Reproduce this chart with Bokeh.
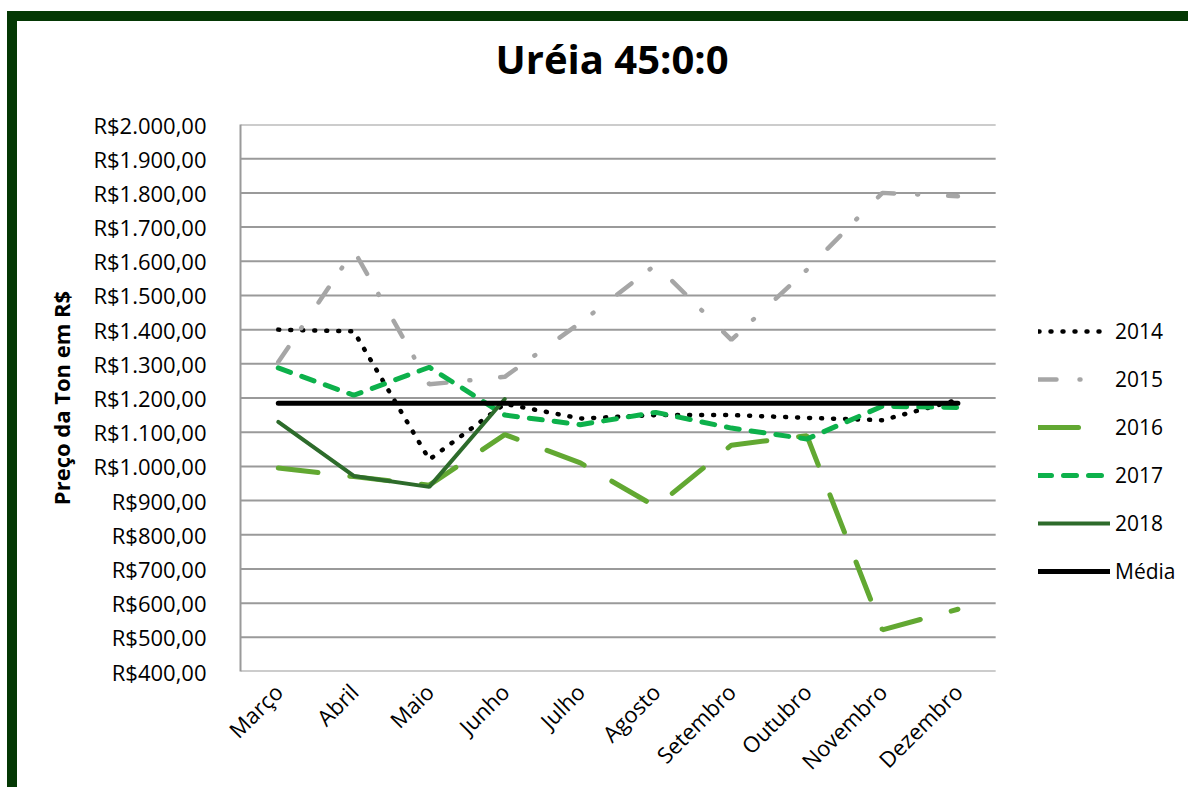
from math import pi
from bokeh.plotting import figure
from bokeh.models import FixedTicker, Legend, LegendItem, Range1d, Title
from bokeh.embed import file_html
from bokeh.resources import INLINE

months = ["Março", "Abril", "Maio", "Junho", "Julho", "Agosto",
          "Setembro", "Outubro", "Novembro", "Dezembro"]
y2014 = [1400, 1395, 1020, 1183, 1140, 1150, 1150, 1142, 1135, 1195]
y2015 = [1305, 1632, 1240, 1262, 1420, 1590, 1370, 1575, 1800, 1790]
y2016 = [995, 970, 945, 1093, 1010, 882, 1062, 1090, 522, 582]
y2017 = [1288, 1208, 1290, 1150, 1122, 1158, 1112, 1080, 1176, 1172]
months_2018 = ["Março", "Abril", "Maio", "Junho"]
y2018 = [1130, 972, 940, 1197]
media = [1185, 1185, 1185, 1185, 1185, 1185, 1185, 1185, 1185, 1185]

y_ticks = [400, 500, 600, 700, 800, 900, 1000, 1100, 1200, 1300, 1400,
           1500, 1600, 1700, 1800, 1900, 2000]
y_labels = ["R$400,00", "R$500,00", "R$600,00", "R$700,00", "R$800,00",
            "R$900,00", "R$1.000,00", "R$1.100,00", "R$1.200,00",
            "R$1.300,00", "R$1.400,00", "R$1.500,00", "R$1.600,00",
            "R$1.700,00", "R$1.800,00", "R$1.900,00", "R$2.000,00"]
title_text = "Uréia 45:0:0"

FONT = "Open Sans"
GRID = "#9a9a9a"

# month positions on the x scale (1 = Março ... 10 = Dezembro)
pos = {m: i + 1 for i, m in enumerate(months)}
x_all = [pos[m] for m in months]
x_2018 = [pos[m] for m in months_2018]
n = len(months)

p = figure(x_range=Range1d(0.5, 13.08), y_range=Range1d(400, 2000),
           width=1181, height=776, output_backend="svg", toolbar_location=None,
           min_border_left=223, min_border_right=8, min_border_top=103,
           min_border_bottom=126)
p.styles = {"border-top": "10px solid #043804", "border-left": "10px solid #043804",
            "margin-top": "11px", "margin-left": "7px"}

# empty spacer title between the frame and the real title
spacer = Title(text=" ", text_font_size="10px", standoff=26)
p.add_layout(spacer, "above")
main_title = Title(text=title_text, text_font=FONT, text_font_size="40px",
                   text_font_style="bold", align="left", offset=255,
                   standoff=0, text_color="#000000")
p.add_layout(main_title, "above")

p.outline_line_color = None
p.xgrid.visible = False
p.ygrid.visible = False

# horizontal gridlines spanning the category area only
p.segment(x0=[0.5] * len(y_ticks), x1=[n + 0.5] * len(y_ticks),
          y0=y_ticks, y1=y_ticks, line_color=GRID, line_width=2)

p.yaxis.ticker = FixedTicker(ticks=y_ticks)
p.yaxis.major_label_overrides = {t: l for t, l in zip(y_ticks, y_labels)}
p.yaxis.major_label_text_font = FONT
p.yaxis.major_label_text_font_size = "22px"
p.yaxis.major_label_text_color = "#000000"
p.yaxis.major_tick_line_color = None
p.yaxis.minor_tick_line_color = None
p.yaxis.axis_line_color = GRID
p.yaxis.axis_line_width = 2
p.yaxis.major_label_standoff = 28
p.yaxis.axis_label = "Preço da Ton em R$"
p.yaxis.axis_label_text_font = FONT
p.yaxis.axis_label_text_font_size = "22px"
p.yaxis.axis_label_text_font_style = "bold"
p.yaxis.axis_label_text_color = "#000000"
p.yaxis.axis_label_standoff = 14

p.xaxis.ticker = FixedTicker(ticks=x_all)
p.xaxis.major_label_overrides = {pos[m]: m for m in months}
p.xaxis.major_label_orientation = pi / 4
p.xaxis.major_label_text_font = FONT
p.xaxis.major_label_text_font_size = "22px"
p.xaxis.major_label_text_color = "#000000"
p.xaxis.major_tick_line_color = None
p.xaxis.minor_tick_line_color = None
p.xaxis.axis_line_color = None
p.xaxis.major_label_standoff = 10

r14 = p.line(x_all, y2014, line_color="#000000", line_width=4.5,
             line_dash="1 11", line_cap="round")
r15 = p.line(x_all, y2015, line_color="#a6a6a6", line_width=4.5,
             line_dash="18 23 1 30", line_cap="round")
r16 = p.line(x_all, y2016, line_color="#62a832", line_width=5,
             line_dash="40 32", line_cap="round")
r17 = p.line(x_all, y2017, line_color="#0db14b", line_width=5,
             line_dash="13 12", line_cap="round")
r18 = p.line(x_2018, y2018, line_color="#2d6b2b", line_width=4,
             line_cap="round")
rm = p.line(x_all, media, line_color="#000000", line_width=5,
            line_cap="round")

legend = Legend(items=[LegendItem(label="2014", renderers=[r14]),
                       LegendItem(label="2015", renderers=[r15]),
                       LegendItem(label="2016", renderers=[r16]),
                       LegendItem(label="2017", renderers=[r17]),
                       LegendItem(label="2018", renderers=[r18]),
                       LegendItem(label="Média", renderers=[rm])],
                location=(798, 86), glyph_width=72, glyph_height=20,
                label_height=20, spacing=20, label_standoff=5,
                label_text_font=FONT, label_text_font_size="21px",
                label_text_color="#000000", padding=0, margin=0,
                border_line_color=None, background_fill_alpha=0)
p.add_layout(legend, "center")

open("out.html", "w").write(file_html(p, INLINE))
